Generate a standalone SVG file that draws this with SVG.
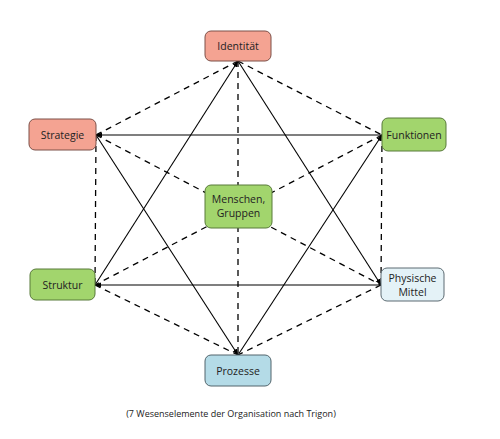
<svg xmlns="http://www.w3.org/2000/svg" width="500" height="439" viewBox="0 0 500 439">
<style>
.bg{fill:#ffffff}
.sol{stroke:#000;stroke-width:1.1;fill:none}
.dash{stroke:#000;stroke-width:1.3;fill:none;stroke-dasharray:6 5}
.box{stroke-width:1}
.red{fill:#f4a392;stroke:#7d5048}
.grn{fill:#a2d56d;stroke:#587a3a}
.lb{fill:#e4f2f7;stroke:#5c6b72}
.mb{fill:#b4dbe7;stroke:#52656c}
text{font-family:"Open Sans","Noto Sans","Liberation Sans",sans-serif;font-size:10.5px;fill:#222;text-anchor:middle}
.cap{font-size:9px}
</style>
<defs>
<marker id="ah" markerWidth="7" markerHeight="7" refX="6" refY="3.5" orient="auto" markerUnits="userSpaceOnUse">
<path d="M0,1 L6,3.5 L0,6 z" fill="#000"/>
</marker>
</defs>
<rect class="bg" x="0" y="0" width="500" height="439"/>
<g id="connectors">
<line class="dash" x1="238" y1="61" x2="96" y2="135"/>
<line class="dash" x1="238" y1="61" x2="382" y2="135"/>
<line class="dash" x1="96" y1="135" x2="95" y2="285"/>
<line class="dash" x1="382" y1="135" x2="381" y2="285"/>
<line class="dash" x1="95" y1="285" x2="238" y2="355"/>
<line class="dash" x1="381" y1="285" x2="238" y2="355"/>
<line class="dash" x1="238" y1="61" x2="238" y2="355"/>
<line class="dash" x1="96" y1="135" x2="381" y2="285"/>
<line class="dash" x1="382" y1="135" x2="95" y2="285"/>
<line class="sol" x1="95" y1="285" x2="238" y2="61" marker-end="url(#ah)"/>
<line class="sol" x1="238" y1="61" x2="381" y2="285" marker-end="url(#ah)"/>
<line class="sol" x1="381" y1="285" x2="95" y2="285" marker-end="url(#ah)"/>
<line class="sol" x1="382" y1="135" x2="96" y2="135" marker-end="url(#ah)"/>
<line class="sol" x1="96" y1="135" x2="238" y2="355" marker-end="url(#ah)"/>
<line class="sol" x1="238" y1="355" x2="382" y2="135" marker-end="url(#ah)"/>
</g>
<g id="identitaet"><rect class="box red" x="205" y="31" width="66" height="30" rx="6"/><text x="238" y="50">Identität</text></g>
<g id="strategie"><rect class="box red" x="29" y="119" width="67" height="31" rx="6"/><text x="62.5" y="138.5">Strategie</text></g>
<g id="funktionen"><rect class="box grn" x="382" y="118" width="64" height="33" rx="6"/><text x="414" y="138.5">Funktionen</text></g>
<g id="menschen"><rect class="box grn" x="205" y="185" width="67" height="43" rx="6"/><text x="238.5" y="203">Menschen,</text><text x="238.5" y="217">Gruppen</text></g>
<g id="struktur"><rect class="box grn" x="30" y="269" width="65" height="31" rx="6"/><text x="62.5" y="288.5">Struktur</text></g>
<g id="physische"><rect class="box lb" x="381" y="268" width="63" height="33" rx="6"/><text x="412.5" y="282">Physische</text><text x="412.5" y="296">Mittel</text></g>
<g id="prozesse"><rect class="box mb" x="205" y="355" width="66" height="31" rx="6"/><text x="238" y="374.5">Prozesse</text></g>
<text class="cap" x="231" y="417">(7 Wesenselemente der Organisation nach Trigon)</text>
</svg>
